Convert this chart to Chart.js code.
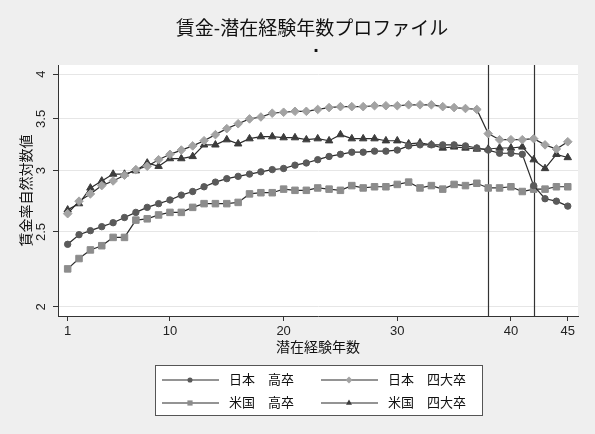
<!DOCTYPE html>
<html>
<head>
<meta charset="utf-8">
<script src="https://cdn.jsdelivr.net/npm/chart.js@4/dist/chart.umd.min.js"></script>
<style>
  html, body { margin: 0; padding: 0; background: #efefef; }
</style>
</head>
<body>
<canvas id="myChart" width="595" height="434"></canvas>
<script>
const ctx = document.getElementById("myChart");

const years = [1, 2, 3, 4, 5, 6, 7, 8, 9, 10, 11, 12, 13, 14, 15, 16, 17, 18, 19, 20, 21, 22, 23,
  24, 25, 26, 27, 28, 29, 30, 31, 32, 33, 34, 35, 36, 37, 38, 39, 40, 41, 42, 43, 44, 45];

const jpHigh = [2.41, 2.48, 2.51, 2.54, 2.57, 2.61, 2.65, 2.69, 2.72, 2.75, 2.79, 2.82, 2.86, 2.90, 2.93,
  2.95, 2.97, 2.99, 3.01, 3.02, 3.05, 3.07, 3.10, 3.13, 3.15, 3.17, 3.17, 3.18, 3.18, 3.19,
  3.23, 3.24, 3.24, 3.24, 3.24, 3.23, 3.21, 3.19, 3.16, 3.16, 3.15, 2.87, 2.76, 2.74, 2.70];
const jpUniv = [2.64, 2.74, 2.80, 2.87, 2.91, 2.96, 3.01, 3.04, 3.10, 3.15, 3.19, 3.23, 3.28, 3.34, 3.40,
  3.45, 3.50, 3.52, 3.56, 3.57, 3.58, 3.58, 3.60, 3.62, 3.63, 3.63, 3.63, 3.64, 3.64, 3.64,
  3.65, 3.65, 3.65, 3.63, 3.62, 3.61, 3.60, 3.35, 3.29, 3.29, 3.29, 3.30, 3.24, 3.20, 3.27];
const usHigh = [2.24, 2.31, 2.37, 2.40, 2.46, 2.46, 2.59, 2.60, 2.63, 2.65, 2.65, 2.69, 2.72, 2.72, 2.72,
  2.73, 2.80, 2.81, 2.81, 2.84, 2.83, 2.83, 2.85, 2.84, 2.83, 2.87, 2.85, 2.86, 2.86, 2.88,
  2.90, 2.85, 2.87, 2.84, 2.88, 2.87, 2.89, 2.85, 2.85, 2.86, 2.82, 2.84, 2.84, 2.86, 2.86];
const usUniv = [2.67, 2.72, 2.85, 2.91, 2.97, 2.97, 3.00, 3.07, 3.04, 3.11, 3.11, 3.13, 3.24, 3.24, 3.29,
  3.25, 3.30, 3.32, 3.32, 3.31, 3.31, 3.29, 3.30, 3.28, 3.34, 3.30, 3.30, 3.30, 3.28, 3.28,
  3.25, 3.26, 3.24, 3.21, 3.22, 3.21, 3.20, 3.20, 3.21, 3.21, 3.22, 3.10, 3.02, 3.15, 3.12];

const seriesNames = ["日本　高卒", "日本　四大卒", "米国　高卒", "米国　四大卒"];
const xTicks = [1, 10, 20, 30, 40, 45];
const yTicks = [2, 2.5, 3, 3.5, 4];
const refLines = [38, 42];

const FONT = '"Liberation Sans", "Noto Sans CJK JP", sans-serif';
Chart.defaults.font.family = FONT;
Chart.defaults.color = "#222";

const lineColor = "#2b2b2b";
function series(label, values, style, radius, color) {
  return {
    label: label,
    data: years.map((x, i) => ({ x: x, y: values[i] })),
    borderColor: lineColor,
    borderWidth: 1.2,
    pointStyle: style,
    pointRadius: radius,
    pointBackgroundColor: color,
    pointBorderColor: color,
    pointBorderWidth: 1,
  };
}

const datasets = [
  series(seriesNames[0], jpHigh, "circle", 3.2, "#5a5a5a"),
  series(seriesNames[1], jpUniv, "rectRot", 4.3, "#a3a3a3"),
  series(seriesNames[2], usHigh, "rect", 4.6, "#8c8c8c"),
  series(seriesNames[3], usUniv, "triangle", 4.3, "#3c3c3c"),
];

// marker for the legend box
function marker(c, style, x, y, r, color) {
  c.fillStyle = color;
  c.beginPath();
  if (style === "circle") {
    c.arc(x, y, r, 0, Math.PI * 2);
  } else if (style === "rectRot") {
    c.moveTo(x, y - r); c.lineTo(x + r, y); c.lineTo(x, y + r); c.lineTo(x - r, y);
  } else if (style === "rect") {
    const s = r * Math.SQRT1_2;
    c.rect(x - s, y - s, 2 * s, 2 * s);
  } else {
    const e = r * Math.sqrt(3);
    c.moveTo(x, y - r); c.lineTo(x + e / 2, y + r / 2); c.lineTo(x - e / 2, y + r / 2);
  }
  c.closePath();
  c.fill();
}

const decor = {
  id: "decor",
  beforeDraw(chart) {
    const c = chart.ctx, a = chart.chartArea;
    c.save();
    c.fillStyle = "#efefef";
    c.fillRect(0, 0, chart.width, chart.height);
    c.fillStyle = "#ffffff";
    c.fillRect(a.left, a.top, a.right - a.left, a.bottom - a.top);
    c.restore();
  },
  beforeDatasetsDraw(chart) {
    const c = chart.ctx, a = chart.chartArea, xs = chart.scales.x;
    c.save();
    c.strokeStyle = "#333";
    c.lineWidth = 1.2;
    refLines.forEach(v => {
      const px = Math.round(xs.getPixelForValue(v)) + 0.5;
      c.beginPath();
      c.moveTo(px, a.top);
      c.lineTo(px, a.bottom);
      c.stroke();
    });
    c.restore();
  },
  afterDraw(chart) {
    const c = chart.ctx, ys = chart.scales.y;
    c.save();
    // rotated y tick labels
    c.fillStyle = "#222";
    c.font = "13px " + FONT;
    c.textAlign = "center";
    c.textBaseline = "middle";
    yTicks.forEach(v => {
      c.save();
      c.translate(41, ys.getPixelForValue(v));
      c.rotate(-Math.PI / 2);
      c.fillText(String(v), 0, 0);
      c.restore();
    });
    // title
    c.fillStyle = "#111";
    c.font = "19px " + FONT;
    c.fillText("賃金-潜在経験年数プロファイル", 312, 30);
    c.font = "bold 20px " + FONT;
    c.fillText(".", 316, 46);
    // legend
    c.fillStyle = "#ffffff";
    c.fillRect(155, 365, 327, 50);
    c.strokeStyle = "#555";
    c.lineWidth = 1;
    c.strokeRect(155.5, 365.5, 327, 50);
    c.font = "13px " + FONT;
    c.textAlign = "left";
    chart.data.datasets.forEach((ds, i) => {
      const x0 = i % 2 === 0 ? 162 : 321;
      const y0 = i < 2 ? 380 : 403;
      c.strokeStyle = ds.borderColor;
      c.lineWidth = ds.borderWidth;
      c.beginPath();
      c.moveTo(x0, y0);
      c.lineTo(x0 + 57, y0);
      c.stroke();
      marker(c, ds.pointStyle, x0 + 28, y0, ds.pointRadius * 0.8, ds.pointBackgroundColor);
      c.fillStyle = "#111";
      c.fillText(ds.label, x0 + 67, y0);
    });
    c.restore();
  },
};

new Chart(ctx, {
  type: "line",
  data: { datasets: datasets },
  options: {
    responsive: false,
    animation: false,
    layout: { padding: { top: 65, right: 17, bottom: 73, left: 0 } },
    plugins: {
      legend: { display: false },
      title: { display: false },
      tooltip: { enabled: false },
    },
    scales: {
      x: {
        type: "linear",
        min: 0.15,
        max: 45.9,
        afterBuildTicks: s => { s.ticks = xTicks.map(v => ({ value: v })); },
        afterFit: s => { s.height = 45; },
        ticks: { autoSkip: false, maxRotation: 0, padding: 3, color: "#222", font: { size: 13 } },
        grid: { drawOnChartArea: false, tickLength: 5, tickColor: "#333" },
        border: { color: "#333", width: 1 },
        title: {
          display: true,
          text: "潜在経験年数",
          color: "#111",
          font: { size: 14 },
          padding: { top: 0, bottom: 4.6 },
        },
      },
      y: {
        type: "logarithmic",
        min: 1.947,
        max: 4.109,
        afterBuildTicks: s => { s.ticks = yTicks.map(v => ({ value: v })); },
        afterFit: s => { s.width = 58; },
        ticks: { display: false },
        grid: { color: "#e6e6e6", lineWidth: 1, tickLength: 5, tickColor: "#333" },
        border: { color: "#333", width: 1 },
        title: {
          display: true,
          text: "賃金率自然対数値",
          color: "#111",
          font: { size: 14 },
          padding: { top: 18.6, bottom: 0 },
        },
      },
    },
  },
  plugins: [decor],
});
</script>
</body>
</html>
